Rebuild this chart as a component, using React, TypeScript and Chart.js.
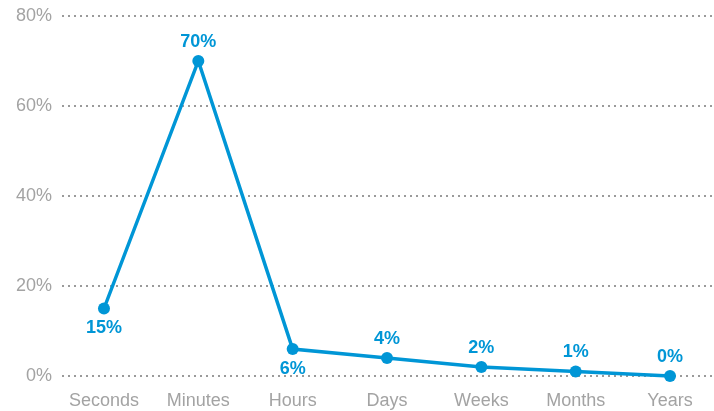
import React, { useEffect, useRef } from "react";
import { Chart, registerables } from "chart.js";

Chart.register(...registerables);

const categories = ["Seconds", "Minutes", "Hours", "Days", "Weeks", "Months", "Years"];
const values = [15, 70, 6, 4, 2, 1, 0];
// which side of the point each value label sits on
const labelBelow = [true, false, true, false, false, false, false];
const yTicks = [0, 20, 40, 60, 80];

const BLUE = "#0096d6";
const GRAY = "#a3a3a3";
const FONT = "'Liberation Sans', Arial, Helvetica, sans-serif";

const valueLabels = {
  id: "valueLabels",
  afterDatasetsDraw(chart: any) {
    const ctx = chart.ctx;
    const meta = chart.getDatasetMeta(0);
    ctx.save();
    ctx.font = `bold 18px ${FONT}`;
    ctx.fillStyle = BLUE;
    ctx.textAlign = "center";
    ctx.textBaseline = "middle";
    meta.data.forEach((pt: any, i: number) => {
      const dy = labelBelow[i] ? 20 : -19;
      ctx.fillText(`${values[i]}%`, pt.x, pt.y + dy);
    });
    ctx.restore();
  },
};

export default function App() {
  const canvasRef = useRef<HTMLCanvasElement | null>(null);

  useEffect(() => {
    document.body.style.margin = "0";
    const canvas = canvasRef.current;
    if (!canvas) return;
    const chart = new Chart(canvas, {
      type: "line",
      data: {
        datasets: [
          {
            data: values.map((v, i) => ({ x: i, y: v })),
            borderColor: BLUE,
            backgroundColor: BLUE,
            borderWidth: 3.5,
            pointRadius: 6,
            pointBackgroundColor: BLUE,
            pointBorderWidth: 0,
            tension: 0,
            clip: false,
          },
        ],
      },
      options: {
        animation: false,
        responsive: false,
        maintainAspectRatio: false,
        layout: { autoPadding: false, padding: { top: 16, right: 0, bottom: 0, left: 0 } },
        plugins: { legend: { display: false }, tooltip: { enabled: false } },
        scales: {
          x: {
            type: "linear",
            min: -0.445,
            max: 6.466,
            border: { display: false },
            grid: { display: false, drawTicks: false },
            afterBuildTicks: (axis: any) => {
              axis.ticks = categories.map((_, i) => ({ value: i }));
            },
            afterFit: (axis: any) => {
              axis.height = 35;
              axis.paddingLeft = 0;
              axis.paddingRight = 0;
            },
            ticks: {
              autoSkip: false,
              maxRotation: 0,
              padding: 14,
              color: GRAY,
              font: { family: FONT, size: 18 },
              callback: (v: any) => categories[v] ?? "",
            },
          },
          y: {
            min: 0,
            max: 80,
            border: { display: false, dash: [2, 4] },
            afterBuildTicks: (axis: any) => {
              axis.ticks = yTicks.map((v) => ({ value: v }));
            },
            afterFit: (axis: any) => {
              axis.width = 62;
              axis.paddingTop = 0;
              axis.paddingBottom = 0;
            },
            grid: {
              drawTicks: false,
              color: "#9a9a9a",
              lineWidth: 2,
            },
            ticks: {
              padding: 10,
              color: GRAY,
              font: { family: FONT, size: 18 },
              callback: (v: any) => `${v}%`,
            },
          },
        },
      },
      plugins: [valueLabels],
    } as any);
    return () => chart.destroy();
  }, []);

  return (
    <div style={{ width: 714, height: 411 }}>
      <canvas ref={canvasRef} width={714} height={411} />
    </div>
  );
}
